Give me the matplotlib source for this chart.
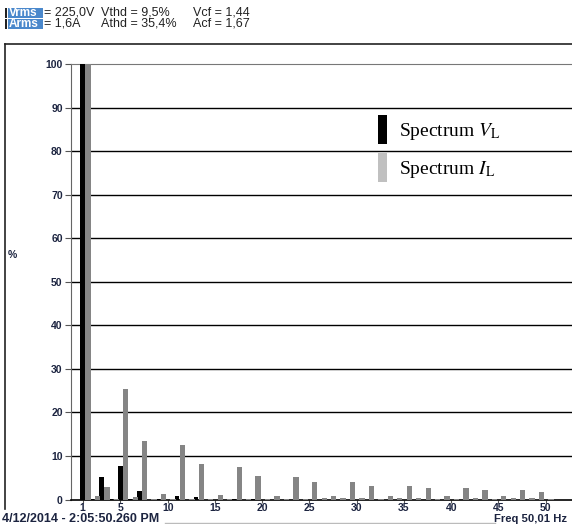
import matplotlib
matplotlib.use('Agg')
import matplotlib.pyplot as plt
from matplotlib.patches import Patch, Rectangle
from matplotlib.lines import Line2D

plt.rcParams['font.family'] = ['Liberation Sans', 'DejaVu Sans']
plt.rcParams['mathtext.fontset'] = 'stix'

# harmonic order 1..50
harmonics = list(range(1, 51))

# voltage spectrum (% of fundamental)
spec_v = [100, 0.1, 5.2, 0.1, 7.7, 0.1, 1.9, 0.0, 0.2, 0.0,
          0.8, 0.0, 0.6, 0.0, 0.0, 0.0, 0.2, 0.0, 0.2, 0.0,
          0.0, 0.0, 0.0, 0.0, 0.0, 0.0, 0.0, 0.0, 0.0, 0.0,
          0.0, 0.0, 0.0, 0.0, 0.0, 0.0, 0.0, 0.0, 0.0, 0.0,
          0.0, 0.0, 0.0, 0.0, 0.0, 0.0, 0.0, 0.0, 0.0, 0.0]

# current spectrum (% of fundamental)
spec_i = [100, 0.85, 2.9, 0.2, 25.4, 0.6, 13.4, 0.2, 1.3, 0.2,
          12.6, 0.2, 8.2, 0.15, 1.1, 0.1, 7.5, 0.2, 5.4, 0.2,
          0.9, 0.1, 5.2, 0.2, 4.0, 0.3, 0.8, 0.3, 4.0, 0.3,
          3.2, 0.1, 0.8, 0.3, 3.2, 0.3, 2.7, 0.1, 0.8, 0.1,
          2.6, 0.3, 2.1, 0.1, 0.8, 0.3, 2.1, 0.3, 1.7, 0.1]

xticks = [1, 5, 10, 15, 20, 25, 30, 35, 40, 45, 50]
yticks = list(range(0, 101, 10))

W, H = 572, 524
fig = plt.figure(figsize=(W / 100, H / 100), dpi=100)

def fx(px):
    return px / W

def fy(py):
    return 1 - py / H

ax_left, ax_top, ax_bot, ax_right = 71, 64, 499.5, 572
ax = fig.add_axes([fx(ax_left), fy(ax_bot), fx(ax_right - ax_left), (ax_bot - ax_top) / H])

xv = [h - 0.02 for h in harmonics]
xi = [h + 0.56 for h in harmonics]
ax.bar(xv, spec_v, width=0.5, color='black', zorder=3)
ax.bar(xi, spec_i, width=0.56, color='#858585', zorder=3)

ax.set_xlim(-0.238, 52.78)
ax.set_ylim(0, 100)
ax.set_yticks(yticks)
ax.set_xticks(xticks)
tick_color = '#1c2440'
ax.tick_params(axis='y', length=4, width=0.8, color='#555555', pad=2,
               labelsize=7.5, labelcolor=tick_color)
ax.tick_params(axis='x', length=2, width=0.8, color='#555555', pad=0.5,
               labelsize=7.5, labelcolor=tick_color)
for lab in ax.get_xticklabels() + ax.get_yticklabels():
    lab.set_fontweight('bold')

for v in yticks[1:-1]:
    ax.axhline(v, color='black', linewidth=1.0, zorder=1)

ax.spines['right'].set_visible(False)
ax.spines['top'].set_color('#777777')
ax.spines['left'].set_color('#666666')
ax.spines['bottom'].set_color('black')
ax.spines['bottom'].set_linewidth(1.2)

ax.set_ylabel('%', rotation=0, fontsize=7.5, color=tick_color, fontweight='bold',
              va='center', ha='center')
ax.yaxis.set_label_coords((12 - ax_left) / (ax_right - ax_left), (ax_bot - 255) / (ax_bot - ax_top))

handles = [Patch(facecolor='black', edgecolor='none'),
           Patch(facecolor='#c0c0c0', edgecolor='none')]
labels = ['Spectrum $V_\\mathrm{L}$', 'Spectrum $I_\\mathrm{L}$']
ax.legend(handles, labels, loc='upper left', frameon=False,
          bbox_to_anchor=(fx(374), fy(111.5)), bbox_transform=fig.transFigure,
          prop={'family': 'Liberation Serif', 'size': 14},
          handlelength=0.47, handleheight=1.9, handletextpad=0.6,
          labelspacing=0.45, borderpad=0.2, borderaxespad=0)

# outer frame
fig.add_artist(Line2D([fx(5), 1], [fy(44), fy(44)], color='#222222', lw=1.2))
fig.add_artist(Line2D([fx(5), fx(5)], [fy(44), fy(509)], color='#222222', lw=1.2))
fig.add_artist(Line2D([fx(165), fx(495)], [fy(523), fy(523)], color='#bbbbbb', lw=1.0))

# header readings
blue = '#4a88cc'
for py, name in [(12.7, 'Vrms'), (24, 'Arms')]:
    fig.add_artist(Rectangle((fx(8), fy(py + 5)), fx(35), 10 / H,
                             facecolor=blue, edgecolor='none'))
    fig.add_artist(Rectangle((fx(4.5), fy(py + 5)), fx(2.5), 10 / H,
                             facecolor='#222222', edgecolor='none'))
    fig.text(fx(9), fy(py), name, color='white', fontsize=8.5,
             fontweight='bold', va='center', ha='left')

hdr = dict(fontsize=9, color='#222222', va='center', ha='left')
fig.text(fx(44), fy(12.7), '= 225,0V', **hdr)
fig.text(fx(101), fy(12.7), 'Vthd = 9,5%', **hdr)
fig.text(fx(193), fy(12.7), 'Vcf = 1,44', **hdr)
fig.text(fx(44), fy(24), '= 1,6A', **hdr)
fig.text(fx(101), fy(24), 'Athd = 35,4%', **hdr)
fig.text(fx(193), fy(24), 'Acf = 1,67', **hdr)

foot = dict(color='#1c2440', va='center', ha='left', fontweight='bold')
fig.text(fx(2), fy(518.5), '4/12/2014 - 2:05:50.260 PM', fontsize=9, **foot)
fig.text(fx(494), fy(518.5), 'Freq 50,01 Hz', fontsize=8.1, **foot)

fig.savefig('out.png', dpi=100)
